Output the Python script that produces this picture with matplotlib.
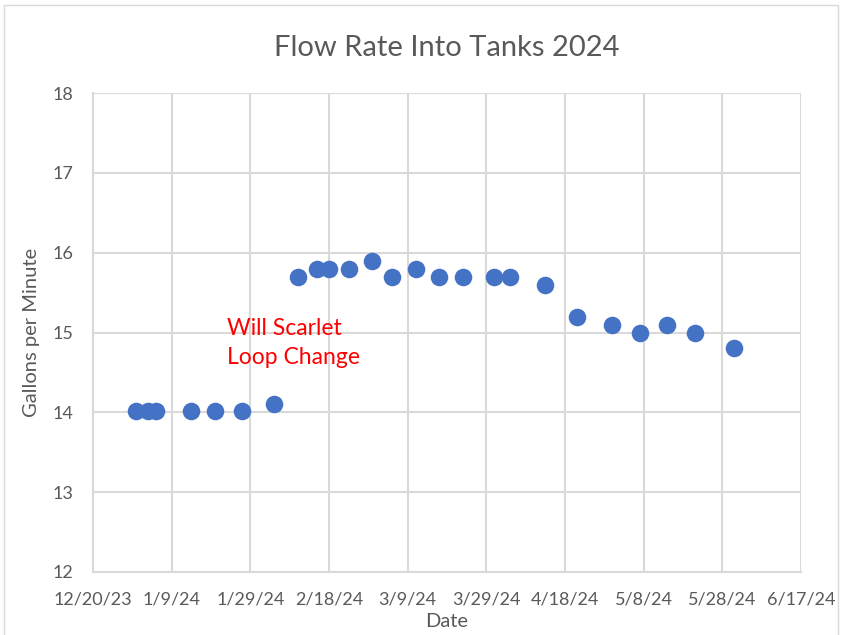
import matplotlib
matplotlib.use("Agg")
import matplotlib.pyplot as plt
import matplotlib.dates as mdates
from matplotlib.patches import Rectangle
import datetime as dt

plt.rcParams['font.family'] = ['Lato', 'DejaVu Sans']

# readings taken off the chart
dates = ["2023-12-31", "2024-01-03", "2024-01-05", "2024-01-14", "2024-01-20",
         "2024-01-27", "2024-02-04", "2024-02-10", "2024-02-15", "2024-02-18",
         "2024-02-23", "2024-02-29", "2024-03-05", "2024-03-11", "2024-03-17",
         "2024-03-23", "2024-03-31", "2024-04-04", "2024-04-13", "2024-04-21",
         "2024-04-30", "2024-05-07", "2024-05-14", "2024-05-21", "2024-05-31"]
flow = [14.02, 14.02, 14.02, 14.02, 14.02,
        14.02, 14.1, 15.7, 15.8, 15.8,
        15.8, 15.9, 15.7, 15.8, 15.7,
        15.7, 15.7, 15.7, 15.6, 15.2,
        15.1, 15.0, 15.1, 15.0, 14.8]

tick_start = dt.date(2023, 12, 20)
tick_step = 20
n_ticks = 10
y_ticks = [12, 13, 14, 15, 16, 17, 18]

x = [dt.datetime.strptime(d, "%Y-%m-%d").date() for d in dates]
xticks = [tick_start + dt.timedelta(days=tick_step * i) for i in range(n_ticks)]


def fmt_date(v, pos):
    d = mdates.num2date(v)
    return "{}/{}/{}".format(d.month, d.day, d.strftime("%y"))


fig = plt.figure(figsize=(8.43, 6.35), dpi=100)
ax = fig.add_axes([93 / 843, 1 - 572 / 635, 708 / 843, 479 / 635])

# chart border like the excel chart box
fig.patches.append(Rectangle((4 / 843, -0.01), 834 / 843, 1 - 5 / 635 + 0.01,
                             transform=fig.transFigure, fill=False,
                             edgecolor="#d9d9d9", linewidth=1))

ax.scatter(x, flow, s=160, color="#4472C4", zorder=3, linewidths=0)

ax.set_xlim(xticks[0], xticks[-1])
ax.set_ylim(12, 18)
ax.set_xticks(xticks)
ax.xaxis.set_major_formatter(plt.FuncFormatter(fmt_date))
ax.set_yticks(y_ticks)

ax.grid(True, color="#d9d9d9", linewidth=1.5)
for s in ["top", "right"]:
    ax.spines[s].set_visible(False)
for s in ["left", "bottom"]:
    ax.spines[s].set_color("#d9d9d9")
    ax.spines[s].set_linewidth(1.5)
ax.tick_params(length=0, labelsize=13, colors="#595959")
ax.tick_params(axis="x", pad=14)
ax.tick_params(axis="y", pad=14)

ax.set_title("Flow Rate Into Tanks 2024", fontsize=21, color="#595959", pad=27)
ax.set_xlabel("Date", fontsize=14.5, color="#595959", labelpad=4)
ax.set_ylabel("Gallons per Minute", fontsize=14.5, color="#595959", labelpad=9)

ax.text(dt.date(2024, 1, 23), 14.87, "Will Scarlet\nLoop Change", color="red",
        fontsize=16.5, linespacing=1.45, va="center", ha="left")

fig.savefig("out.png", dpi=100)
